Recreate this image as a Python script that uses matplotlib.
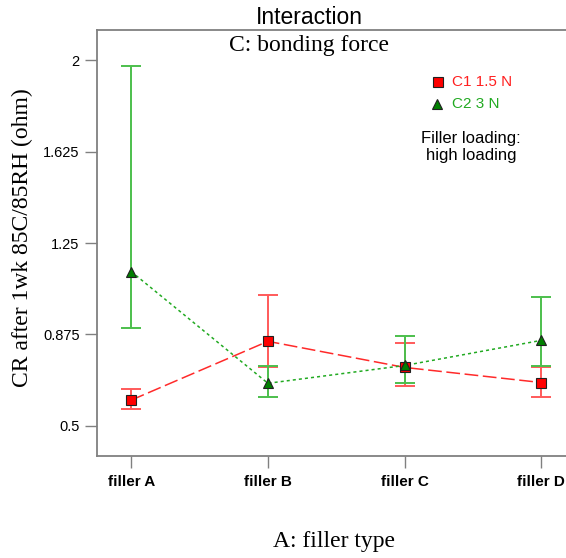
import numpy as np
import matplotlib.pyplot as plt

plt.rcParams['font.family'] = 'Liberation Sans'

fillers = ['filler A', 'filler B', 'filler C', 'filler D']

# C1 1.5 N
c1_mean = [0.606, 0.847, 0.740, 0.678]
c1_low = [0.569, 0.741, 0.664, 0.619]
c1_high = [0.653, 1.035, 0.840, 0.740]

# C2 3 N
c2_mean = [1.133, 0.675, 0.748, 0.851]
c2_low = [0.900, 0.619, 0.676, 0.747]
c2_high = [1.975, 0.744, 0.868, 1.028]

yticks = [0.5, 0.875, 1.25, 1.625, 2]
ytick_labels = ['0.5', '0.875', '1.25', '1.625', '2']

red_bar = '#ff5a5a'
green_bar = '#4cbf4c'

fig = plt.figure(figsize=(5.66, 5.58), dpi=100)
ax = fig.add_axes([97/566, 1 - 456/558, 1 - 97/566, (456 - 30)/558])

x = np.arange(len(fillers))

def draw(mean, low, high, bar_col, line_col, marker, face, dashes, ms):
    mean = np.array(mean)
    err = [mean - np.array(low), np.array(high) - mean]
    ax.errorbar(x, mean, yerr=err, fmt='none', ecolor=bar_col, elinewidth=1.4,
                capsize=7, capthick=1.4, zorder=2)
    ax.plot(x, mean, color=line_col, linewidth=1.1, dashes=dashes, zorder=3)
    ax.plot(x, mean, linestyle='none', marker=marker, markersize=ms,
            markerfacecolor=face, markeredgecolor='#202020', markeredgewidth=0.8, zorder=4)

draw(c1_mean, c1_low, c1_high, red_bar, '#ff2a2a', 's', '#ff0000', (9, 3), 6.5)
draw(c2_mean, c2_low, c2_high, green_bar, '#22aa22', '^', '#008000', (2, 2), 7)

ax.set_xlim(-0.25, 3.18)
ax.set_ylim(0.377, 2.123)
ax.set_xticks(x)
ax.set_xticklabels(fillers, fontsize=11, fontweight='bold')
ax.set_yticks(yticks)
ax.set_yticklabels(ytick_labels, fontsize=10.5)
ax.tick_params(direction='out', length=8.5, width=1, color='#808080', pad=4)
ax.tick_params(axis='x', pad=5)

for s in ['left', 'top', 'bottom']:
    ax.spines[s].set_color('#808080')
    ax.spines[s].set_linewidth(1.3)
ax.spines['right'].set_visible(False)

fig.text(22/566, 1 - 238/558, 'CR after 1wk 85C/85RH (ohm)', rotation=90,
         ha='center', va='center', family='Liberation Serif', fontsize=17)
fig.text(334/566, 1 - 542/558, 'A: filler type', ha='center', va='center',
         family='Liberation Serif', fontsize=17)
fig.text(309/566, 1 - 17/558, 'Interaction', ha='center', va='center', fontsize=16.5)
fig.text(309/566, 1 - 46/558, 'C: bonding force', ha='center', va='center',
         family='Liberation Serif', fontsize=17)

# legend
fig.text(452/566, 1 - 82/558, 'C1 1.5 N', color='#ff2020', fontsize=11, va='center', ha='left')
fig.text(452/566, 1 - 104/558, 'C2 3 N', color='#22aa22', fontsize=11, va='center', ha='left')
fig.lines.append(plt.Line2D([438/566], [1 - 82/558], marker='s', markersize=6.5,
                            markerfacecolor='#ff0000', markeredgecolor='#202020',
                            markeredgewidth=0.8, transform=fig.transFigure))
fig.lines.append(plt.Line2D([437/566], [1 - 104/558], marker='^', markersize=7,
                            markerfacecolor='#008000', markeredgecolor='#202020',
                            markeredgewidth=0.8, transform=fig.transFigure))
fig.text(471/566, 1 - 147/558, 'Filler loading:\nhigh loading', ha='center', va='center',
         fontsize=12, linespacing=1.1)

fig.savefig('out.png', dpi=100)
